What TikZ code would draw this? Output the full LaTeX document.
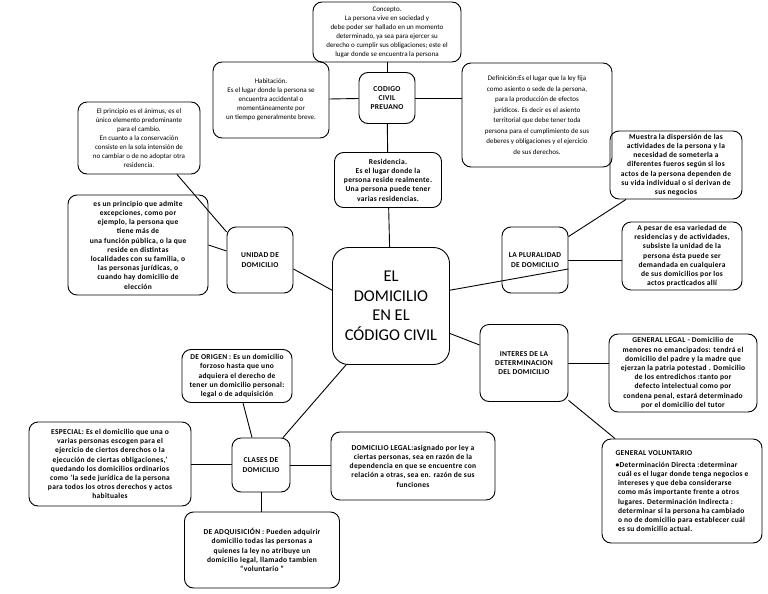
\documentclass[tikz,border=0pt]{standalone}
\usepackage{fontspec}
\setmainfont{Carlito}
\begin{document}
\begin{tikzpicture}[x=1pt,y=-1pt]
\tikzset{kasten/.style={draw,rounded corners=9pt,line width=0.9pt,align=center,inner sep=2pt,font=\fontsize{7}{9}\selectfont}}
\tikzset{fett/.style={kasten,font=\fontsize{7.5}{9.2}\selectfont\bfseries\addfontfeature{LetterSpace=4}}}
\useasboundingbox (0,0) rectangle (768,594);
\node [kasten,minimum width=148pt,minimum height=60pt] (konzept) at (387,32) {Concepto.\\La persona vive en sociedad y\\debe poder ser hallado en un momento\\determinado, ya sea para ejercer su\\derecho o cumplir sus obligaciones; este el\\lugar donde se encuentra la persona};
\node [fett,minimum width=56pt,minimum height=51pt] (codigo) at (387,98) {CODIGO\\CIVIL\\PREUANO};
\node [kasten,minimum width=116pt,minimum height=76pt] (habitacion) at (271,100) {Habitación.\\Es el lugar donde la persona se\\encuentra accidental o\\momentáneamente por\\un tiempo generalmente breve.};
\node [kasten,minimum width=150pt,minimum height=104pt,font=\fontsize{7}{10.5}\selectfont] (definicion) at (537,115) {Definición:Es el lugar que la ley fija\\como asiento o sede de la persona,\\para la producción de efectos\\jurídicos. Es decir es el asiento\\territorial que debe tener toda\\persona para el cumplimiento de sus\\deberes y obligaciones y el ejercicio\\de sus derechos.};
\node [kasten,minimum width=122pt,minimum height=72pt] (prinzip) at (139,138) {El principio es el ánimus, es el\\único elemento predominante\\para el cambio.\\En cuanto a la conservación\\consiste en la sola intensión de\\no cambiar o de no adoptar otra\\residencia.};
\node [fett,minimum width=140pt,minimum height=100pt] (ausnahme) at (138,245) {es un principio que admite\\excepciones, como por\\ejemplo, la persona que\\tiene más de\\una función pública, o la que\\reside en distintas\\localidades con su familia, o\\las personas jurídicas, o\\cuando hay domicilio de\\elección};
\node [fett,minimum width=107pt,minimum height=55pt] (residencia) at (388,180) {Residencia.\\Es el lugar donde la\\persona reside realmente.\\Una persona puede tener\\varias residencias.};
\node [fett,minimum width=66pt,minimum height=66pt] (unidad) at (260,260) {UNIDAD DE\\DOMICILIO};
\node [kasten,minimum width=117pt,minimum height=117pt,rounded corners=16pt,font=\fontsize{16.5}{19.5}\selectfont] (zentrum) at (391,306) {EL\\DOMICILIO\\EN EL\\CÓDIGO CIVIL};
\node [fett,minimum width=66pt,minimum height=66pt] (pluralidad) at (535,260) {LA PLURALIDAD\\DE DOMICILIO};
\node [fett,minimum width=132pt,minimum height=68pt] (muestra) at (676,165) {Muestra la dispersión de las\\actividades de la persona y la\\necesidad de someterla a\\diferentes fueros según si los\\actos de la persona dependen de\\su vida individual o si derivan de\\sus negocios};
\node [fett,minimum width=120pt,minimum height=68pt] (apesar) at (682,256) {A pesar de esa variedad de\\residencias y de actividades,\\subsiste la unidad de la\\persona ésta puede ser\\demandada en cualquiera\\de sus domicilios por los\\actos practicados allí};
\node [fett,minimum width=88pt,minimum height=77pt] (interes) at (524,363) {INTERES DE LA\\DETERMINACION\\DEL DOMICILIO};
\node [fett,minimum width=148pt,minimum height=78pt] (legal) at (683,373) {GENERAL LEGAL - Domicilio de\\menores no emancipados: tendrá el\\domicilio del padre y la madre que\\ejerzan la patria potestad . Domicilio\\de los entredichos :tanto por\\defecto intelectual como por\\condena penal, estará determinado\\por el domicilio del tutor};
\node [fett,align=left,minimum width=160pt,minimum height=104pt] (voluntario) at (682,491) {GENERAL VOLUNTARIO\\[3pt]•Determinación Directa :determinar\\\,\,cuál es el lugar donde tenga negocios e\\\,\,intereses y que deba considerarse\\\,\,como más importante frente a otros\\\,\,lugares. Determinación Indirecta :\\\,\,determinar si la persona ha cambiado\\\,\,o no de domicilio para establecer cuál\\\,\,es su domicilio actual.};
\node [fett,minimum width=110pt,minimum height=53pt] (origen) at (237,376) {DE ORIGEN : Es un domicilio\\forzoso hasta que uno\\adquiera el derecho de\\tener un domicilio personal:\\legal o de adquisición};
\node [fett,minimum width=162pt,minimum height=84pt] (especial) at (110,464) {ESPECIAL: Es el domicilio que una o\\varias personas escogen para el\\ejercicio de ciertos derechos o la\\ejecución de ciertas obligaciones,'\\quedando los domicilios ordinarios\\como 'la sede jurídica de la persona\\para todos los otros derechos y actos\\habituales};
\node [fett,minimum width=58pt,minimum height=54pt] (clases) at (261,465) {CLASES DE\\DOMICILIO};
\node [fett,minimum width=164pt,minimum height=68pt] (domlegal) at (413,466) {DOMICILIO LEGAL:asignado por ley a\\ciertas personas, sea en razón de la\\dependencia en que se encuentre con\\relación a otras, sea en. razón de sus\\funciones};
\node [fett,minimum width=155pt,minimum height=76pt] (adquisicion) at (262,550) {DE ADQUISICIÓN : Pueden adquirir\\domicilio todas las personas a\\quienes la ley no atribuye un\\domicilio legal, llamado tambien\\``voluntario ''};
\draw[-,line width=0.9pt] (konzept) to (codigo);
\draw[-,line width=0.9pt] (habitacion) to (codigo);
\draw[-,line width=0.9pt] (codigo.east) to (codigo.east -| definicion.west);
\draw[-,line width=0.9pt] (codigo) to (residencia);
\draw[-,line width=0.9pt] (residencia) to (zentrum);
\draw[-,line width=0.9pt] ([xshift=38pt]prinzip.south) to (unidad.140);
\draw[-,line width=0.9pt] (ausnahme.east) to (unidad.165);
\draw[-,line width=0.9pt] (unidad.-15) to (zentrum.165);
\draw[-,line width=0.9pt] (zentrum.15) to (pluralidad.-15);
\draw[-,line width=0.9pt] (pluralidad.35) to ([xshift=-50pt]muestra.south);
\draw[-,line width=0.9pt] (pluralidad.east) to (pluralidad.east -| apesar.west);
\draw[-,line width=0.9pt] (zentrum.-25) to ([yshift=18pt]interes.west);
\draw[-,line width=0.9pt] (interes.east) to (interes.east -| legal.west);
\draw[-,line width=0.9pt] (interes.-40) to ([xshift=-67pt]voluntario.north);
\draw[-,line width=0.9pt] ([xshift=-45pt]zentrum.south) to ([xshift=22pt]clases.north);
\draw[-,line width=0.9pt] ([xshift=6pt]origen.south) to ([xshift=-9pt]clases.north);
\draw[-,line width=0.9pt] (especial.east) to (especial.east -| clases.west);
\draw[-,line width=0.9pt] (clases.east) to (clases.east -| domlegal.west);
\draw[-,line width=0.9pt] (clases.south) to (clases.south |- adquisicion.north);
\end{tikzpicture}
\end{document}
